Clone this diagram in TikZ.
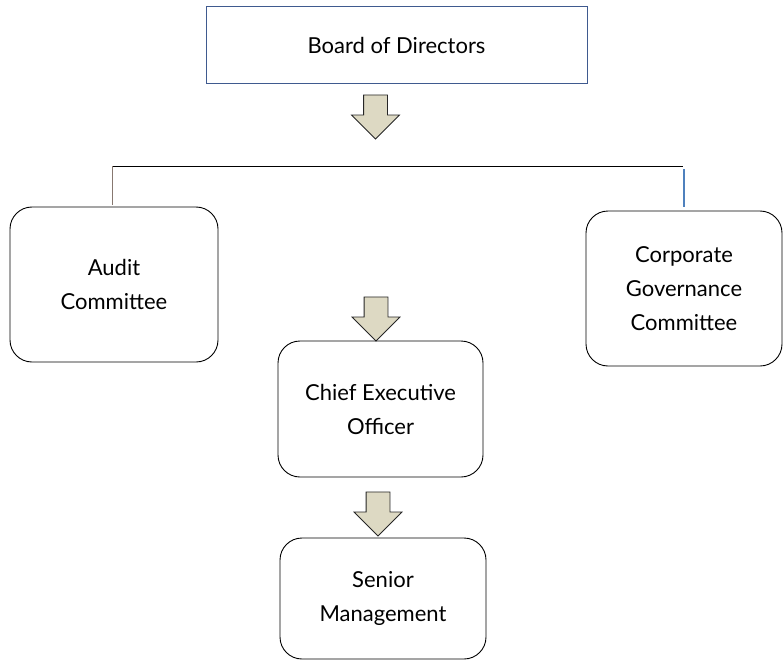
\documentclass[tikz,border=0pt]{standalone}
\usepackage{fontspec}
\setmainfont{Lato}
\usepackage{xcolor}
\usepackage{tikz}
\usetikzlibrary{shapes.arrows}
\definecolor{boardblue}{RGB}{63,90,143}
\definecolor{linkblue}{RGB}{79,129,189}
\definecolor{linkbrown}{RGB}{135,120,112}
\definecolor{arrowfill}{RGB}{221,217,195}

\begin{document}
\begin{tikzpicture}[x=1bp, y=1bp,
        every node/.style={font=\fontsize{22bp}{34bp}\selectfont, align=center, inner sep=0pt},
        unitbox/.style={draw=black, line width=0.9bp, rounded corners=22bp},
        downarrow/.style={single arrow, draw=black!85, fill=arrowfill, line width=0.8bp,
            inner sep=11.5bp,
            shape border rotate=270, minimum height=44bp, minimum width=47bp,
            single arrow head extend=12bp, single arrow head indent=0pt}]
        \useasboundingbox (0,0) rectangle (783,-662);
        % top box
        \node [draw=boardblue, line width=1bp, minimum width=381bp, minimum height=77bp] (board) at (396.5,-45.5) {Board of Directors};
        \node [downarrow] (arrA) at (375.5,-111) {};
        % committees
        \node [unitbox, minimum width=208bp, minimum height=155bp] (audit) at (114,-284.5) {Audit\\Committee};
        \node [unitbox, minimum width=196bp, minimum height=155bp] (corp) at (684,-288.5) {Corporate\\Governance\\Committee};
        \coordinate (busL) at (112,-166);
        \coordinate (busR) at (683,-166);
        \draw [black, line width=1bp] (busL) -- (busR);
        \draw [linkbrown, line width=1bp] (busL) -- ([yshift=2bp]audit.north -| busL);
        \draw [linkblue, line width=1.2bp] ([yshift=-3bp]busR -| corp.north) -- ([yshift=4bp]corp.north);
        % management line
        \node [downarrow] (arrB) at (376,-313) {};
        \node [unitbox, minimum width=205bp, minimum height=136bp] (ceo) at (380.5,-409) {Chief Executive\\Officer};
        \node [downarrow] (arrC) at (378,-508) {};
        \node [unitbox, minimum width=206bp, minimum height=121bp] (senior) at (383,-598.5) {Senior\\Management};
\end{tikzpicture}
\end{document}
